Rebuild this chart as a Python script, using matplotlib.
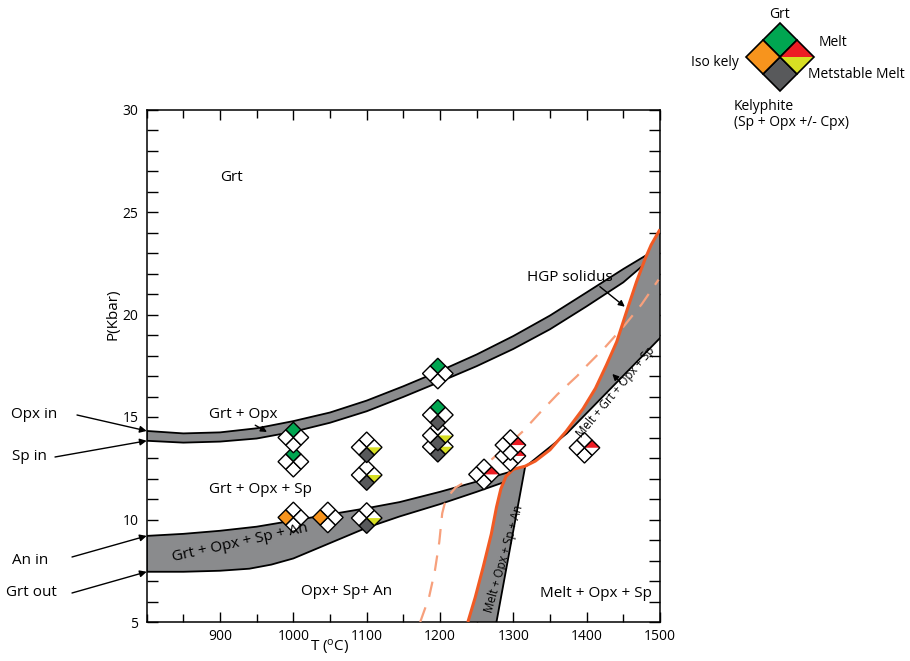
import matplotlib
matplotlib.use("Agg")
import matplotlib.pyplot as plt
from matplotlib.patches import Polygon
from matplotlib.transforms import Affine2D, ScaledTranslation
from matplotlib.ticker import MultipleLocator, FixedLocator

plt.rcParams['font.family'] = ['Open Sans', 'DejaVu Sans']

# ---------------- data (T in degC, P in kbar) ----------------
opx_in_T = [800, 850, 900, 950, 1000, 1050, 1100, 1150, 1200, 1250, 1300, 1350, 1400, 1450, 1484]
opx_in_P = [14.32, 14.2, 14.25, 14.45, 14.8, 15.22, 15.8, 16.5, 17.25, 18.05, 18.95, 19.95, 21.08, 22.22, 22.95]
sp_in_T = [800, 850, 900, 950, 1000, 1050, 1100, 1150, 1200, 1250, 1300, 1350, 1400, 1450, 1477]
sp_in_P = [13.84, 13.75, 13.8, 13.95, 14.28, 14.72, 15.28, 15.98, 16.72, 17.48, 18.32, 19.28, 20.4, 21.57, 22.4]

an_in_T = [800, 850, 900, 950, 1000, 1050, 1100, 1145, 1200, 1250, 1296, 1316]
an_in_P = [9.2, 9.3, 9.45, 9.65, 9.95, 10.25, 10.55, 10.85, 11.35, 11.85, 12.33, 12.56]
grt_out_T = [800, 850, 900, 940, 970, 1000, 1050, 1100, 1145, 1200, 1250, 1296, 1316]
grt_out_P = [7.45, 7.45, 7.5, 7.6, 7.8, 8.1, 8.85, 9.6, 10.15, 10.75, 11.35, 11.93, 12.56]

solidus_T = [1238, 1248, 1259, 1270, 1277, 1283, 1290, 1300, 1316, 1330, 1350, 1372, 1395,
             1412, 1427, 1441, 1454, 1468, 1480, 1488, 1500]
solidus_P = [5, 6.2, 7.7, 9.3, 10.6, 11.5, 12.1, 12.45, 12.6, 12.85, 13.4, 14.3, 15.4,
             16.4, 17.54, 18.67, 20.1, 21.6, 22.74, 23.4, 24.15]

an_out_T = [1277, 1295, 1308, 1316]
an_out_P = [5, 8.5, 11.0, 12.56]

grt_melt_T = [1318, 1373, 1500]
grt_melt_P = [12.62, 14.2, 18.85]

meta_T = [1173, 1185, 1193, 1199, 1203, 1208, 1221, 1237, 1260, 1290, 1313, 1336, 1360,
          1387, 1400, 1425, 1450, 1475, 1498]
meta_P = [5, 6.2, 7.5, 8.9, 10.3, 11.0, 11.55, 11.9, 12.6, 13.55, 14.3, 15.2, 16.1,
          17.0, 17.5, 18.4, 19.4, 20.5, 21.7]

# experiment symbols: G=garnet, K=kelyphite, M=melt, Y=metastable melt, I=iso kelyphite
sym_T = [1000, 1000, 1100, 1100, 1000, 1047, 1100, 1197, 1197, 1197, 1197, 1260, 1296, 1296, 1397]
sym_P = [14.0, 12.82, 13.52, 12.17, 10.1, 10.1, 10.07, 17.12, 15.1, 14.1, 13.55, 12.2, 13.63, 13.1, 13.5]
sym_code = ['G', 'G', 'KY', 'KY', 'I', 'I', 'KY', 'G', 'GK', 'KY', 'KY', 'M', 'M', 'M', 'M']

region_labels = ['Grt', 'Grt + Opx', 'Grt + Opx + Sp', 'Opx+ Sp+ An', 'Melt + Opx + Sp', 'HGP solidus']
region_T = [916, 931, 955, 1073, 1413, 1377]
region_P = [26.7, 15.1, 11.45, 6.5, 6.37, 21.8]

# ---------------- styles ----------------
BAND = '#8a8b8d'
KEL = '#58595b'
GRN = '#00a651'
RED = '#ed1c24'
YEL = '#d7df23'
ORG = '#f7941d'
SOL = '#f15a24'
META = '#f7a07c'

W, H = 910, 661
fig = plt.figure(figsize=(W / 100, H / 100), dpi=100)
ax = fig.add_axes([146.7 / W, 1 - 622 / H, (660 - 146.7) / W, (622 - 109.5) / H])
ax.set_xlim(800, 1500)
ax.set_ylim(5, 30)

# upper band (Grt + Opx)
ax.fill(opx_in_T + sp_in_T[::-1], opx_in_P + sp_in_P[::-1], facecolor=BAND,
        edgecolor='black', lw=1.3, zorder=2)
# lower band (Grt + Opx + Sp + An)
ax.fill(an_in_T + grt_out_T[::-1], an_in_P + grt_out_P[::-1], facecolor=BAND,
        edgecolor='black', lw=1.3, zorder=2)

# Melt + Opx + Sp + An band (between lower solidus and an_out)
low_T = [t for t, p in zip(solidus_T, solidus_P) if p <= 12.6]
low_P = [p for t, p in zip(solidus_T, solidus_P) if p <= 12.6]
ax.fill(low_T + an_out_T[::-1], low_P + an_out_P[::-1], facecolor=BAND, edgecolor='none', zorder=2)
ax.plot(an_out_T, an_out_P, color='black', lw=1.3, zorder=3)

# Melt + Grt + Opx + Sp region
up_T = [t for t in solidus_T if t >= 1316]
up_P = [p for t, p in zip(solidus_T, solidus_P) if t >= 1316]
ax.fill(up_T + [1500] + grt_melt_T[::-1], up_P + [grt_melt_P[-1]] + grt_melt_P[::-1],
        facecolor=BAND, edgecolor='none', zorder=2)
ax.plot(grt_melt_T, grt_melt_P, color='black', lw=1.3, zorder=3)

# metastable solidus (dashed) and HGP solidus
ax.plot(meta_T, meta_P, color=META, lw=1.6, dashes=(7, 5), zorder=3.5)
ax.plot(solidus_T, solidus_P, color=SOL, lw=2.2, zorder=4, solid_capstyle='butt')

# ---------------- symbols ----------------
TOP = [(0, 0), (0.5, 0.5), (0, 1), (-0.5, 0.5)]
RIGHT = [(0, 0), (0.5, 0.5), (1, 0), (0.5, -0.5)]
BOTTOM = [(0, 0), (0.5, -0.5), (0, -1), (-0.5, -0.5)]
LEFT = [(0, 0), (-0.5, 0.5), (-1, 0), (-0.5, -0.5)]
R_UP = [(0, 0), (0.5, 0.5), (1, 0)]
R_LO = [(0, 0), (1, 0), (0.5, -0.5)]


def draw_diamond(add, tr, code, z, lw=1.0):
    cols = {'top': GRN if 'G' in code else 'white',
            'bottom': KEL if 'K' in code else 'white',
            'left': ORG if 'I' in code else 'white'}
    for name, verts in (('top', TOP), ('bottom', BOTTOM), ('left', LEFT)):
        add(Polygon(verts, closed=True, facecolor=cols[name], edgecolor='black',
                    lw=lw, transform=tr, zorder=z, joinstyle='miter'))
    add(Polygon(RIGHT, closed=True, facecolor='white', edgecolor='none', transform=tr, zorder=z))
    if 'M' in code:
        add(Polygon(R_UP, closed=True, facecolor=RED, edgecolor='none', transform=tr, zorder=z))
    if 'Y' in code:
        add(Polygon(R_LO, closed=True, facecolor=YEL, edgecolor='none', transform=tr, zorder=z))
    add(Polygon(RIGHT, closed=True, facecolor='none', edgecolor='black', lw=lw,
                transform=tr, zorder=z, joinstyle='miter'))


order = sorted(range(len(sym_T)), key=lambda i: sym_P[i])
for k, i in enumerate(order):
    tr = (Affine2D().scale(15.3 / 100) + fig.dpi_scale_trans
          + ScaledTranslation(sym_T[i], sym_P[i], ax.transData))
    draw_diamond(ax.add_patch, tr, sym_code[i], 6 + k * 0.01)

# legend diamond (figure pixels)
tr_leg = Affine2D().scale(34 / 100).translate(780 / 100, (H - 57) / 100) + fig.dpi_scale_trans
draw_diamond(fig.add_artist, tr_leg, 'GKMYI', 6, lw=1.2)

FS = 11
leg_items = [('Grt', 780, 15, 'center'), ('Melt', 819, 43, 'left'),
             ('Iso kely', 739, 62, 'right'), ('Metstable Melt', 808, 75, 'left'),
             ('Kelyphite', 734, 106, 'left'), ('(Sp + Opx +/- Cpx)', 734, 123, 'left')]
for s, x, y, ha in leg_items:
    fig.text(x / W, 1 - y / H, s, ha=ha, va='center', fontsize=10)

# ---------------- labels inside ----------------
for s, t, p in zip(region_labels, region_T, region_P):
    ax.text(t, p, s, ha='center', va='center', fontsize=FS, zorder=8)
ax.text(928, 8.85, 'Grt + Opx + Sp + An', ha='center', va='center', fontsize=11,
        rotation=12.4, rotation_mode='anchor', zorder=8)
ax.text(1287, 8.1, 'Melt + Opx + Sp + An', ha='center', va='center', fontsize=8.3,
        rotation=74, rotation_mode='anchor', zorder=8)
ax.text(1439, 16.2, 'Melt + Grt + Opx + Sp', ha='center', va='center', fontsize=8.3,
        rotation=50, rotation_mode='anchor', zorder=8)

arrow_kw = dict(arrowstyle='-|>', color='black', lw=1.0, shrinkA=0, shrinkB=0, mutation_scale=9)
ax.annotate('', xy=(1452, 20.38), xytext=(1418, 21.36), arrowprops=arrow_kw, zorder=8)
ax.annotate('', xy=(964, 14.27), xytext=(948, 14.6), arrowprops=arrow_kw, zorder=8)
ax.annotate('', xy=(1435, 17.1), xytext=(1446, 16.7), arrowprops=arrow_kw, zorder=8)

# outside boundary labels with arrows
side_labels = ['Opx in', 'Sp in', 'An in', 'Grt out']
side_text_xy = [(34, 414), (29, 457), (30, 560), (31, 592)]
side_tail_xy = [(77, 415), (55, 457), (72, 557), (72, 593)]
side_P = [opx_in_P[0], sp_in_P[0], an_in_P[0], grt_out_P[0]]
for s, (tx, ty), (ax_, ay_), p in zip(side_labels, side_text_xy, side_tail_xy, side_P):
    fig.text(tx / W, 1 - ty / H, s, ha='center', va='center', fontsize=FS)
    ax.annotate('', xy=(800, p), xycoords='data', xytext=(ax_ / W, 1 - ay_ / H),
                textcoords='figure fraction', arrowprops=dict(arrowstyle='-|>', color='black', lw=1.0,
                shrinkA=0, shrinkB=0, mutation_scale=10), annotation_clip=False)

# ---------------- axes ----------------
ax.xaxis.set_major_locator(FixedLocator([900, 1000, 1100, 1200, 1300, 1400, 1500]))
ax.xaxis.set_minor_locator(MultipleLocator(50))
ax.yaxis.set_major_locator(MultipleLocator(5))
ax.yaxis.set_minor_locator(MultipleLocator(1))
ax.tick_params(which='both', direction='in', top=True, right=True, width=1.0, labelsize=10)
ax.tick_params(axis='x', which='major', length=7.5, pad=5)
ax.tick_params(axis='x', which='minor', length=5.5)
ax.tick_params(axis='y', which='both', length=8, pad=6)
for sp in ax.spines.values():
    sp.set_linewidth(1.1)

ax.set_xlabel(r'T ($\mathregular{^{o}}$C)', fontsize=FS)
ax.set_ylabel('P(Kbar)', fontsize=FS)
ax.xaxis.set_label_coords(0.357, -0.049)
ax.xaxis.label.set_va('center')
ax.yaxis.set_label_coords(-0.066, 0.6)
ax.yaxis.label.set_va('center')

ax.set_xlim(800, 1500)
ax.set_ylim(5, 30)
fig.savefig('out.png', dpi=100)
